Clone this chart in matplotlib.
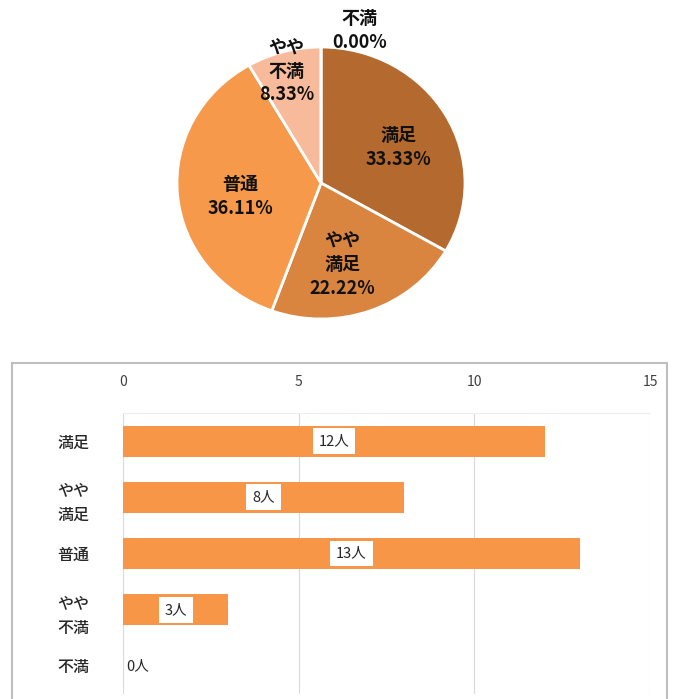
import matplotlib
matplotlib.use("Agg")
import matplotlib.pyplot as plt
from matplotlib.patches import Rectangle

plt.rcParams['font.family'] = ['Noto Sans CJK JP', 'DejaVu Sans']

# ---- data ----
categories = ["満足", "やや満足", "普通", "やや不満", "不満"]
pie_labels = ["満足", "やや\n満足", "普通", "やや\n不満", "不満"]
bar_labels = ["満足", "やや\n満足", "普通", "やや\n不満", "不満"]
counts = [12, 8, 13, 3, 0]
pie_colors = ["#B4692F", "#D9843F", "#F6994B", "#F7BB9C", "#F2DCCB"]
bar_color = "#F79646"
xticks = [0, 5, 10, 15]

W, H = 674, 699
fig = plt.figure(figsize=(W / 100, H / 100), dpi=100)

# ---- pie ----
cx, cy, rx, ry = 321, 183, 144, 136
axp = fig.add_axes([(cx - rx) / W, (H - cy - ry) / H, 2 * rx / W, 2 * ry / H])
total = sum(counts)
axp.pie(counts, colors=pie_colors, startangle=90, counterclock=False,
        wedgeprops=dict(edgecolor="white", linewidth=2.0))
axp.set_aspect("auto")
axp.set_xlim(-1, 1)
axp.set_ylim(-1, 1)
# label positions (layout, data coords of the pie axes)
label_pos = [(0.54, 0.26), (0.15, -0.60), (-0.56, -0.10), (-0.24, 0.82), (0.27, 1.12)]
for lab, c, (x, y) in zip(pie_labels, counts, label_pos):
    axp.text(x, y, f"{lab}\n{100 * c / total:.2f}%", ha="center", va="center",
             fontsize=13, fontweight="bold", color="#111111", linespacing=1.3,
             clip_on=False)

# ---- bar chart frame ----
frame = Rectangle((12 / W, -0.05), (667 - 12) / W, (H - 363) / H + 0.05,
                  transform=fig.transFigure, facecolor="white",
                  edgecolor="#BFBFBF", linewidth=1.5, zorder=-10)
fig.add_artist(frame)

left, right, top, bottom = 123, 650, 413, 694
axb = fig.add_axes([left / W, (H - bottom) / H, (right - left) / W, (bottom - top) / H])
axb.set_zorder(5)
axb.set_facecolor("none")
ypos = list(range(len(categories)))
axb.barh(ypos, counts, height=0.55, color=bar_color, zorder=2)
axb.set_xlim(0, 15)
axb.set_ylim(len(categories) - 0.5, -0.5)
axb.set_xticks(xticks)
axb.xaxis.tick_top()
axb.tick_params(axis="x", length=0, pad=17, labelsize=10, labelcolor="#404040")
axb.set_yticks(ypos)
axb.set_yticklabels(bar_labels, fontsize=11.5, color="#262626", linespacing=1.6,
                    fontweight="medium")
axb.tick_params(axis="y", length=0, pad=24)
axb.grid(axis="x", color="#D9D9D9", linewidth=0.8, zorder=0)
for s in ["left", "right", "bottom"]:
    axb.spines[s].set_visible(False)
axb.spines["top"].set_color("#EEEEEE")
axb.spines["top"].set_linewidth(0.8)

for y, c in zip(ypos, counts):
    if c > 0:
        axb.text(c / 2, y, f"{c}人", ha="center", va="center", fontsize=10.5,
                 color="#262626", zorder=3,
                 bbox=dict(boxstyle="square,pad=0.4", facecolor="white", edgecolor="none"))
    else:
        axb.text(0.1, y, f"{c}人", ha="left", va="center", fontsize=10.5,
                 color="#262626", zorder=3)

fig.savefig("out.png", dpi=100)
